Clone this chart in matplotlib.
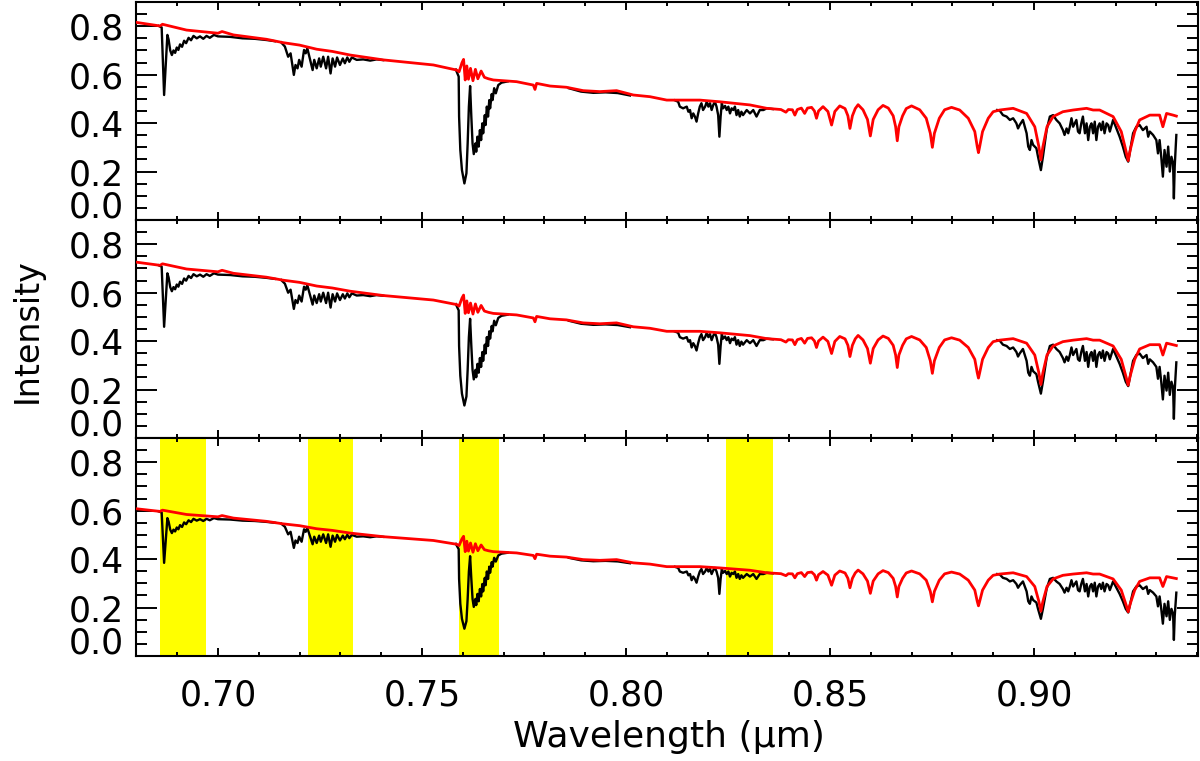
import numpy as np
import matplotlib.pyplot as plt
from matplotlib.ticker import MultipleLocator

nan = np.nan

# corrected spectrum (red)
red_wave = [0.6799, 0.6858, 0.6864, 0.6923, 0.7000, 0.7010, 0.7038, 0.7119, 0.7160, 0.7200,
            0.7242, 0.7280, 0.7324, 0.7405, 0.7446, 0.7528, 0.7585, 0.7591, 0.7598, 0.7602,
            0.7606, 0.7610, 0.7614, 0.7619, 0.7625, 0.7631, 0.7637, 0.7645, 0.7653, 0.7663,
            0.7675, 0.7699, 0.7732, 0.7773, 0.7777, 0.7781, 0.7814, 0.7854, 0.7895, 0.7936,
            0.7977, 0.8018, 0.8059, 0.8100, 0.8140, 0.8181, 0.8230, 0.8263, 0.8304, 0.8345,
            0.8380, 0.8392, 0.8398, 0.8408, 0.8414, 0.8420, 0.8430, 0.8438, 0.8445, 0.8455,
            0.8462, 0.8467, 0.8472, 0.8483, 0.8495, 0.8504, 0.8512, 0.8524, 0.8537, 0.8544,
            0.8549, 0.8555, 0.8562, 0.8569, 0.8581, 0.8592, 0.8599, 0.8606, 0.8618, 0.8630,
            0.8643, 0.8655, 0.8661, 0.8665, 0.8669, 0.8678, 0.8687, 0.8700, 0.8720, 0.8736,
            0.8746, 0.8751, 0.8756, 0.8768, 0.8781, 0.8798, 0.8818, 0.8839, 0.8855, 0.8861,
            0.8864, 0.8867, 0.8874, 0.8888, 0.8900, 0.8916, 0.8949, 0.8982, 0.9002, 0.9012,
            0.9017, 0.9022, 0.9032, 0.9047, 0.9071, 0.9096, 0.9129, 0.9145, 0.9161, 0.9194,
            0.9214, 0.9225, 0.9231, 0.9236, 0.9247, 0.9259, 0.9284, 0.9308, 0.9316, 0.9325,
            0.9341, 0.9349]
red_flux = [0.816, 0.801, 0.808, 0.784, 0.771, 0.778, 0.764, 0.746, 0.732, 0.722,
            0.705, 0.696, 0.681, 0.661, 0.654, 0.640, 0.619, 0.612, 0.649, 0.663,
            0.578, 0.636, 0.581, 0.626, 0.575, 0.622, 0.583, 0.615, 0.589, 0.583,
            0.578, 0.575, 0.571, 0.557, 0.539, 0.564, 0.553, 0.548, 0.534, 0.530,
            0.534, 0.516, 0.509, 0.495, 0.495, 0.495, 0.488, 0.482, 0.475, 0.461,
            0.456, 0.445, 0.456, 0.455, 0.433, 0.456, 0.462, 0.440, 0.462, 0.465,
            0.450, 0.420, 0.450, 0.468, 0.448, 0.392, 0.448, 0.471, 0.460, 0.430,
            0.378, 0.430, 0.460, 0.476, 0.455, 0.415, 0.347, 0.415, 0.455, 0.473,
            0.462, 0.430, 0.385, 0.327, 0.385, 0.430, 0.460, 0.471, 0.455, 0.420,
            0.358, 0.300, 0.358, 0.420, 0.455, 0.465, 0.454, 0.420, 0.365, 0.303,
            0.278, 0.303, 0.365, 0.420, 0.447, 0.454, 0.461, 0.440, 0.385, 0.303,
            0.248, 0.303, 0.385, 0.427, 0.447, 0.454, 0.461, 0.454, 0.454, 0.427,
            0.365, 0.289, 0.245, 0.289, 0.365, 0.413, 0.433, 0.433, 0.385, 0.440,
            0.433, 0.429]

# observed spectrum (black), only where it shows below the red one; nan = gap
black_wave = [0.6855, 0.6862, 0.6865, 0.6868, 0.6872, 0.6876, 0.6879, 0.6883, 0.6887, 0.6891,
              0.6895, 0.6899, 0.6903, 0.6907, 0.6912, 0.6917, 0.6922, 0.6928, 0.6934, 0.6940,
              0.6948, 0.6956, 0.6964, 0.6972, 0.6980, 0.6990, 0.7000, 0.7030, 0.7060, 0.7090,
              0.7119, 0.7140, nan,
              0.7155, 0.7164, 0.7172, 0.7178, 0.7183, 0.7186, 0.7190, 0.7195, 0.7199, 0.7205,
              0.7211, 0.7215, 0.7219, 0.7225, 0.7232, 0.7236, 0.7242, 0.7248, 0.7252, 0.7258,
              0.7265, 0.7270, 0.7276, 0.7281, 0.7287, 0.7292, 0.7299, 0.7306, 0.7311, 0.7317,
              0.7322, 0.7328, 0.7340, 0.7356, 0.7373, 0.7389, 0.7405, nan,
              0.7583, 0.7590, 0.7591, 0.7594, 0.7598, 0.7604, 0.7609, 0.7612, 0.7615, 0.7618,
              0.7621, 0.7624, 0.7627, 0.7631, 0.7633, 0.7636, 0.7639, 0.7642, 0.7645, 0.7648,
              0.7650, 0.7654, 0.7656, 0.7659, 0.7662, 0.7665, 0.7667, 0.7671, 0.7673, 0.7677,
              0.7681, 0.7687, 0.7695, 0.7710, nan,
              0.7860, 0.7890, 0.7920, 0.7950, 0.7980, 0.8010, nan,
              0.8120, 0.8128, 0.8132, 0.8140, 0.8149, 0.8153, 0.8157, 0.8161, 0.8165, 0.8169,
              0.8173, 0.8177, 0.8181, 0.8185, 0.8189, 0.8194, 0.8198, 0.8202, 0.8206, 0.8210,
              0.8214, 0.8218, 0.8222, 0.8226, 0.8229, 0.8232, 0.8235, 0.8238, 0.8243, 0.8247,
              0.8251, 0.8255, 0.8259, 0.8263, 0.8267, 0.8271, 0.8275, 0.8279, 0.8283, 0.8287,
              0.8296, 0.8304, 0.8312, 0.8320, 0.8328, 0.8337, 0.8345, 0.8360, nan,
              0.8910, 0.8916, 0.8924, 0.8933, 0.8941, 0.8949, 0.8957, 0.8961, 0.8965, 0.8973,
              0.8982, 0.8986, 0.8990, 0.8994, 0.8998, 0.9006, 0.9010, 0.9017, 0.9022, 0.9031,
              0.9039, 0.9047, 0.9055, 0.9063, 0.9071, 0.9075, 0.9080, 0.9084, 0.9088, 0.9092,
              0.9096, 0.9104, 0.9108, 0.9112, 0.9116, 0.9120, 0.9125, 0.9129, 0.9133, 0.9137,
              0.9141, 0.9145, 0.9149, 0.9153, 0.9157, 0.9161, 0.9165, 0.9169, 0.9173, 0.9178,
              0.9182, 0.9186, 0.9194, 0.9202, 0.9210, 0.9218, 0.9225, 0.9231, 0.9236, 0.9243,
              0.9251, 0.9259, 0.9267, 0.9276, 0.9280, 0.9284, 0.9292, 0.9300, 0.9304, 0.9308,
              0.9312, 0.9316, 0.9320, 0.9325, 0.9329, 0.9333, 0.9337, 0.9341, 0.9343, 0.9345,
              0.9349]
black_flux = [0.801, 0.795, 0.650, 0.516, 0.640, 0.764, 0.745, 0.700, 0.681, 0.700,
              0.690, 0.712, 0.702, 0.725, 0.715, 0.740, 0.730, 0.752, 0.742, 0.760,
              0.750, 0.758, 0.748, 0.760, 0.752, 0.764, 0.758, 0.756, 0.750, 0.748,
              0.743, 0.738, nan,
              0.733, 0.716, 0.674, 0.688, 0.633, 0.599, 0.640, 0.626, 0.661, 0.633,
              0.702, 0.688, 0.709, 0.667, 0.619, 0.661, 0.626, 0.667, 0.633, 0.674,
              0.626, 0.674, 0.605, 0.667, 0.633, 0.671, 0.640, 0.667, 0.647, 0.671,
              0.653, 0.671, 0.661, 0.663, 0.658, 0.663, 0.660, nan,
              0.621, 0.592, 0.427, 0.289, 0.206, 0.151, 0.193, 0.316, 0.468, 0.553,
              0.427, 0.316, 0.272, 0.316, 0.282, 0.344, 0.303, 0.371, 0.330, 0.399,
              0.358, 0.433, 0.392, 0.468, 0.427, 0.495, 0.461, 0.520, 0.495, 0.544,
              0.523, 0.557, 0.567, 0.572, nan,
              0.544, 0.530, 0.525, 0.527, 0.524, 0.514, nan,
              0.494, 0.488, 0.468, 0.461, 0.468, 0.447, 0.454, 0.420, 0.440, 0.427,
              0.406, 0.440, 0.468, 0.482, 0.454, 0.468, 0.488, 0.468, 0.482, 0.454,
              0.475, 0.488, 0.468, 0.433, 0.344, 0.427, 0.482, 0.461, 0.471, 0.454,
              0.468, 0.440, 0.461, 0.454, 0.468, 0.433, 0.454, 0.427, 0.447, 0.433,
              0.454, 0.440, 0.454, 0.427, 0.454, 0.454, 0.461, 0.458, nan,
              0.454, 0.452, 0.433, 0.427, 0.413, 0.420, 0.399, 0.378, 0.392, 0.413,
              0.358, 0.303, 0.289, 0.330, 0.310, 0.296, 0.261, 0.206, 0.261, 0.371,
              0.427, 0.433, 0.413, 0.399, 0.371, 0.351, 0.378, 0.358, 0.385, 0.420,
              0.385, 0.413, 0.365, 0.358, 0.399, 0.427, 0.358, 0.399, 0.330, 0.385,
              0.399, 0.358, 0.406, 0.330, 0.385, 0.399, 0.371, 0.406, 0.358, 0.399,
              0.392, 0.365, 0.413, 0.378, 0.344, 0.303, 0.261, 0.241, 0.289, 0.358,
              0.385, 0.392, 0.371, 0.385, 0.344, 0.365, 0.351, 0.330, 0.275, 0.330,
              0.261, 0.179, 0.289, 0.220, 0.303, 0.200, 0.261, 0.234, 0.089, 0.220,
              0.351]

# relative level of each panel (top, middle, bottom) read from the continuum
panel_scale = [1.0, 0.89, 0.745]

# highlighted windows in the bottom panel
band_start = [0.6858, 0.7221, 0.7590, 0.8245]
band_end = [0.6971, 0.7332, 0.7690, 0.8361]

plt.rcParams['font.family'] = ['DejaVu Sans']

fig = plt.figure(figsize=(12, 7.61), dpi=100)
bottoms = [0.7109, 0.4244, 0.1380]

red_wave = np.array(red_wave)
red_flux = np.array(red_flux)
black_wave = np.array(black_wave)
black_flux = np.array(black_flux)

for i, (b, s) in enumerate(zip(bottoms, panel_scale)):
    ax = fig.add_axes([0.1133, b, 0.885, 0.2865])
    if i == 2:
        for x0, x1 in zip(band_start, band_end):
            ax.axvspan(x0, x1, color='#ffff00', lw=0, zorder=0)
    ax.plot(black_wave, black_flux * s, color='black', lw=1.7, zorder=2)
    ax.plot(red_wave, red_flux * s, color='#ff0000', lw=2.0, zorder=3)

    ax.set_xlim(0.6799, 0.9402)
    ax.set_ylim(0.0, 0.9)
    ax.xaxis.set_major_locator(MultipleLocator(0.05))
    ax.xaxis.set_minor_locator(MultipleLocator(0.01))
    ax.set_yticks([0.0, 0.2, 0.4, 0.6, 0.8])
    ax.set_yticklabels(['', '0.2', '0.4', '0.6', '0.8'])
    ax.yaxis.set_minor_locator(MultipleLocator(0.05))
    ax.annotate('0.0', xy=(0, 0.0), xycoords=('axes fraction', 'data'),
                xytext=(-8.5, 9), textcoords='offset points',
                ha='right', va='center', fontsize=25)

    ax.tick_params(axis='x', which='major', direction='in', length=6, width=1.4,
                   top=True, bottom=True, pad=16, labelsize=25)
    ax.tick_params(axis='x', which='minor', direction='in', length=3, width=1.4,
                   top=True, bottom=True)
    ax.tick_params(axis='y', which='major', direction='in', length=15, width=1.4,
                   left=True, right=True, pad=8.5, labelsize=25)
    ax.tick_params(axis='y', which='minor', direction='in', length=8, width=1.4,
                   left=True, right=True)
    if i < 2:
        ax.tick_params(axis='x', labelbottom=False)
    else:
        ax.set_xticklabels(['%.2f' % v for v in ax.get_xticks()])
    for sp in ax.spines.values():
        sp.set_linewidth(1.5)

fig.text(27 / 1200, 1 - 331 / 761, 'Intensity', rotation=90, ha='center', va='center',
         fontsize=24)
fig.text(669 / 1200, 1 - 737 / 761, 'Wavelength (\u03bcm)', ha='center', va='center',
         fontsize=26)

fig.savefig('out.png', dpi=100)
